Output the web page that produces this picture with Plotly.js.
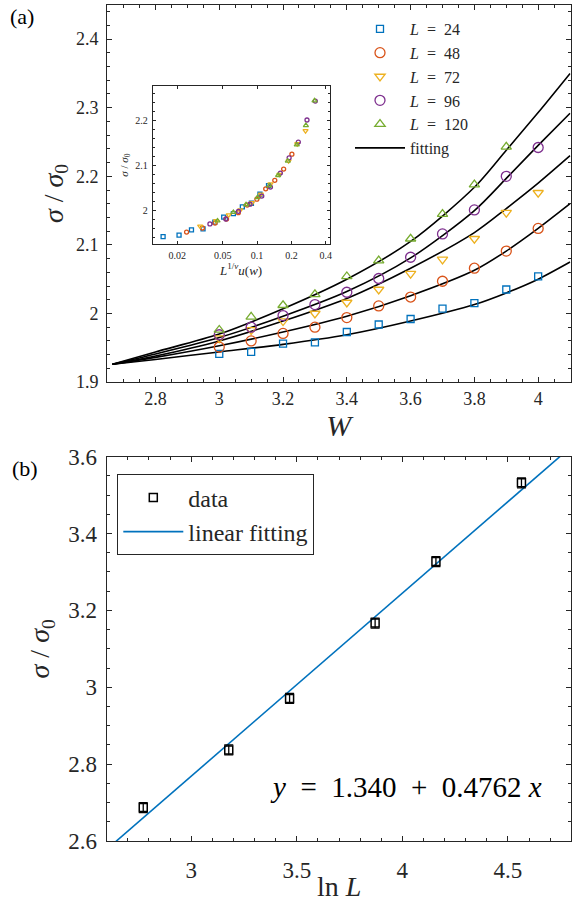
<!DOCTYPE html>
<html><head><meta charset="utf-8">
<script src="https://cdn.plot.ly/plotly-3.0.1.min.js"></script>
<style>html,body{margin:0;padding:0;background:#fff}#chart{width:584px;height:912px}</style>
</head><body><div id="chart"></div>
<script>
// ---------- Panel (a): sigma/sigma0 vs W ----------
const W = [3.0, 3.1, 3.2, 3.3, 3.4, 3.5, 3.6, 3.7, 3.8, 3.9, 4.0];
const W120 = [3.0, 3.1, 3.2, 3.3, 3.4, 3.5, 3.6, 3.7, 3.8, 3.9];
const sigL24  = [1.941, 1.944, 1.956, 1.958, 1.973, 1.984, 1.992, 2.007, 2.015, 2.035, 2.054];
const sigL48  = [1.951, 1.960, 1.971, 1.980, 1.994, 2.011, 2.024, 2.047, 2.066, 2.091, 2.124];
const sigL72  = [1.964, 1.976, 1.989, 2.000, 2.016, 2.035, 2.058, 2.079, 2.109, 2.147, 2.176];
const sigL96  = [1.969, 1.980, 1.997, 2.013, 2.031, 2.051, 2.082, 2.116, 2.151, 2.200, 2.242];
const sigL120 = [1.976, 1.995, 2.012, 2.028, 2.054, 2.077, 2.109, 2.145, 2.188, 2.243];

// fitting curves
const fitW    = [2.665, 2.8, 3.0, 3.2, 3.4, 3.6, 3.8, 3.9, 4.0, 4.1];
const fit24   = [1.926, 1.933, 1.944, 1.955, 1.969, 1.989, 2.013, 2.030, 2.050, 2.075];
const fit48   = [1.926, 1.936, 1.953, 1.973, 1.996, 2.026, 2.063, 2.091, 2.124, 2.160];
const fit72   = [1.926, 1.938, 1.960, 1.989, 2.022, 2.066, 2.118, 2.153, 2.190, 2.230];
const fit96   = [1.926, 1.941, 1.965, 1.996, 2.032, 2.081, 2.150, 2.197, 2.245, 2.292];
const fit120  = [1.926, 1.944, 1.970, 2.007, 2.050, 2.105, 2.184, 2.238, 2.293, 2.350];

// inset: scaling variable L^{1/nu} u(w)
const insX24  = [0.0150, 0.0207, 0.0266, 0.0336, 0.0426, 0.0510, 0.0620, 0.0743, 0.0892, 0.106, 0.126];
const insX48  = [0.0241, 0.0332, 0.0428, 0.0540, 0.0685, 0.0819, 0.0995, 0.119, 0.143, 0.171, 0.202];
const insX72  = [0.0317, 0.0437, 0.0564, 0.0712, 0.0902, 0.108, 0.131, 0.157, 0.189, 0.225, 0.266];
const insX96  = [0.0386, 0.0532, 0.0686, 0.0867, 0.110, 0.131, 0.160, 0.191, 0.230, 0.274, 0.324];
const insX120 = [0.045, 0.062, 0.080, 0.101, 0.128, 0.153, 0.186, 0.223, 0.268, 0.319];
const insTickVals = [0.02, 0.05, 0.1, 0.2, 0.4];
const insTickText = ['0.02', '0.05', '0.1', '0.2', '0.4'];

const NB = '\u00A0';
const seriesNames = ['24', '48', '72', '96', '120'].map(v => '<i>L</i>' + NB + ' = ' + NB + v);

// ---------- Panel (b): sigma/sigma0 vs ln L ----------
const lnL   = [2.773, 3.178, 3.466, 3.871, 4.159, 4.564];
const sigB  = [2.687, 2.837, 2.971, 3.167, 3.327, 3.532];
const errB  = [0.013, 0.013, 0.013, 0.013, 0.013, 0.013];
const fitLnL = [2.6, 4.8];
const fitSigB = [2.578, 3.626];

// ---------- styling ----------
const FONT = 'Liberation Serif, Times New Roman, serif';
const INK = '#262626';
const colors = ['#0072BD', '#D95319', '#EDB120', '#7E2F8E', '#77AC30'];
const symbols = ['square-open', 'circle-open', 'triangle-down-open', 'circle-open', 'triangle-up-open'];
const sizes = [7, 10, 9, 10, 9];
const insSizes = [4, 4, 4.5, 4, 4.5];

const xsTop = [W, W, W, W, W120];
const ysTop = [sigL24, sigL48, sigL72, sigL96, sigL120];
const xsIns = [insX24, insX48, insX72, insX96, insX120];
const fits = [fit24, fit48, fit72, fit96, fit120];

const traces = [];
fits.forEach((f, i) => {
  traces.push({
    x: fitW, y: f, xaxis: 'x', yaxis: 'y', type: 'scatter', mode: 'lines',
    line: {color: '#000000', width: 1.6, shape: 'spline', smoothing: 0.8},
    name: 'fitting', showlegend: i === 0, legendrank: 10, hoverinfo: 'skip'
  });
});
for (let i = 0; i < 5; i++) {
  traces.push({
    x: xsTop[i], y: ysTop[i], xaxis: 'x', yaxis: 'y', type: 'scatter', mode: 'markers',
    marker: {symbol: symbols[i], size: sizes[i], color: colors[i], line: {width: 1.3, color: colors[i]}},
    name: seriesNames[i], legendrank: i + 1
  });
}
for (let i = 0; i < 5; i++) {
  traces.push({
    x: xsIns[i], y: ysTop[i], xaxis: 'x2', yaxis: 'y2', type: 'scatter', mode: 'markers',
    marker: {symbol: symbols[i], size: insSizes[i], color: colors[i], line: {width: 1.3, color: colors[i]}},
    showlegend: false
  });
}
traces.push({
  x: fitLnL, y: fitSigB, xaxis: 'x3', yaxis: 'y3', type: 'scatter', mode: 'lines',
  line: {color: '#0072BD', width: 1.6}, name: 'linear fitting', legend: 'legend2', legendrank: 2
});
traces.push({
  x: lnL, y: sigB, xaxis: 'x3', yaxis: 'y3', type: 'scatter', mode: 'markers',
  marker: {symbol: 'square-open', size: 8, color: '#000', line: {width: 1.5, color: '#000'}},
  error_y: {type: 'data', array: errB, visible: true, color: '#000', thickness: 1.3, width: 4.5},
  name: 'data', legend: 'legend2', legendrank: 1
});

function ax(extra) {
  return Object.assign({
    showline: true, mirror: 'ticks', linecolor: INK, linewidth: 1,
    ticks: 'inside', ticklen: 5, tickwidth: 1, tickcolor: INK,
    showgrid: false, zeroline: false,
    tickfont: {family: FONT, size: 18, color: INK}
  }, extra);
}

const layout = {
  width: 584, height: 912,
  margin: {l: 0, r: 0, t: 0, b: 0},
  paper_bgcolor: '#ffffff', plot_bgcolor: '#ffffff',
  font: {family: FONT, color: INK},
  showlegend: true,
  xaxis: ax({domain: [107/584, 570.7/584], range: [2.648, 4.102], anchor: 'y',
    tick0: 2.8, dtick: 0.2, ticklabelstandoff: 0,
    minor: {dtick: 0.05, ticks: 'inside', ticklen: 3, tickcolor: INK},
    title: {text: '<i>W</i>', font: {family: FONT, size: 30, color: INK}, standoff: 2}}),
  yaxis: ax({domain: [1 - 382.1/912, 1 - 4.8/912], range: [1.9, 2.45], anchor: 'x',
    tick0: 1.9, dtick: 0.1, ticklabelstandoff: 4,
    minor: {dtick: 0.02, ticks: 'inside', ticklen: 3, tickcolor: INK},
    title: {text: '<i>σ</i> / <i>σ</i><sub>0</sub>', font: {family: FONT, size: 28, color: INK}, standoff: 4}}),
  xaxis2: ax({domain: [152.7/584, 329.5/584], type: 'log', range: [-1.915, -0.365], anchor: 'y2',
    tickvals: insTickVals, ticktext: insTickText, ticklen: 3,
    tickfont: {family: FONT, size: 10, color: INK}, ticklabelstandoff: 2,
    title: {text: '<i>L</i><sup>1/<i>ν</i></sup><i>u</i>(<i>w</i>)', font: {family: FONT, size: 13, color: INK}, standoff: 2}}),
  yaxis2: ax({domain: [1 - 244.3/912, 1 - 86/912], range: [1.9238, 2.2756], anchor: 'x2',
    tickvals: [2, 2.1, 2.2], ticktext: ['2', '2.1', '2.2'], ticklen: 3,
    minor: {dtick: 0.02, ticks: 'inside', ticklen: 2, tickcolor: INK},
    tickfont: {family: FONT, size: 10, color: INK}, ticklabelstandoff: 2,
    title: {text: '<i>σ</i> / <i>σ</i><sub>0</sub>', font: {family: FONT, size: 11, color: INK}, standoff: 4}}),
  xaxis3: ax({domain: [106.7/584, 571.3/584], range: [2.6, 4.8], anchor: 'y3',
    tick0: 3, dtick: 0.5, ticklabelstandoff: 8,
    tickfont: {family: FONT, size: 23, color: INK},
    minor: {dtick: 0.1, ticks: 'inside', ticklen: 3, tickcolor: INK}}),
  yaxis3: ax({domain: [1 - 841/912, 1 - 456.7/912], range: [2.6, 3.6], anchor: 'x3',
    tick0: 2.6, dtick: 0.2, ticklabelstandoff: 4,
    tickfont: {family: FONT, size: 23, color: INK},
    minor: {dtick: 0.05, ticks: 'inside', ticklen: 3, tickcolor: INK},
    title: {text: '<i>σ</i> / <i>σ</i><sub>0</sub>', font: {family: FONT, size: 28, color: INK}, standoff: 10}}),
  legend: {x: 350/584, y: 1 - 12/912, xanchor: 'left', yanchor: 'top',
    bgcolor: 'rgba(0,0,0,0)', borderwidth: 0, itemwidth: 50, tracegroupgap: 0,
    font: {family: FONT, size: 16, color: INK}},
  legend2: {x: 117.3/584, y: 1 - 474.3/912, xanchor: 'left', yanchor: 'top',
    bgcolor: '#ffffff', bordercolor: INK, borderwidth: 1, itemwidth: 60, tracegroupgap: 0,
    font: {family: FONT, size: 24, color: INK}},
  shapes: [{type: 'rect', xref: 'x2', yref: 'y2', x0: 0.001, x1: 10, y0: 1.5, y1: 3,
    fillcolor: '#ffffff', line: {width: 0}, layer: 'below'}],
  annotations: [
    {text: '(a)', x: 8/584, y: 1 - 16/912, xref: 'paper', yref: 'paper', xanchor: 'left', yanchor: 'middle',
     showarrow: false, font: {family: FONT, size: 22, color: '#000'}},
    {text: '(b)', x: 10/584, y: 1 - 468/912, xref: 'paper', yref: 'paper', xanchor: 'left', yanchor: 'middle',
     showarrow: false, font: {family: FONT, size: 22, color: '#000'}},
    {text: 'ln' + NB + '<i>L</i>', x: 339/584, y: 1 - 886/912, xref: 'paper', yref: 'paper',
     xanchor: 'center', yanchor: 'middle', showarrow: false, font: {family: FONT, size: 28, color: INK}},
    {text: '<i>y</i>' + NB + ' = ' + NB + '1.340' + NB + ' + ' + NB + '0.4762 <i>x</i>',
     x: 406/584, y: 1 - 787/912, xref: 'paper', yref: 'paper',
     xanchor: 'center', yanchor: 'middle', showarrow: false, font: {family: FONT, size: 29, color: '#000'}}
  ]
};

Plotly.newPlot('chart', traces, layout, {displayModeBar: false, staticPlot: true});
</script>
</body></html>
